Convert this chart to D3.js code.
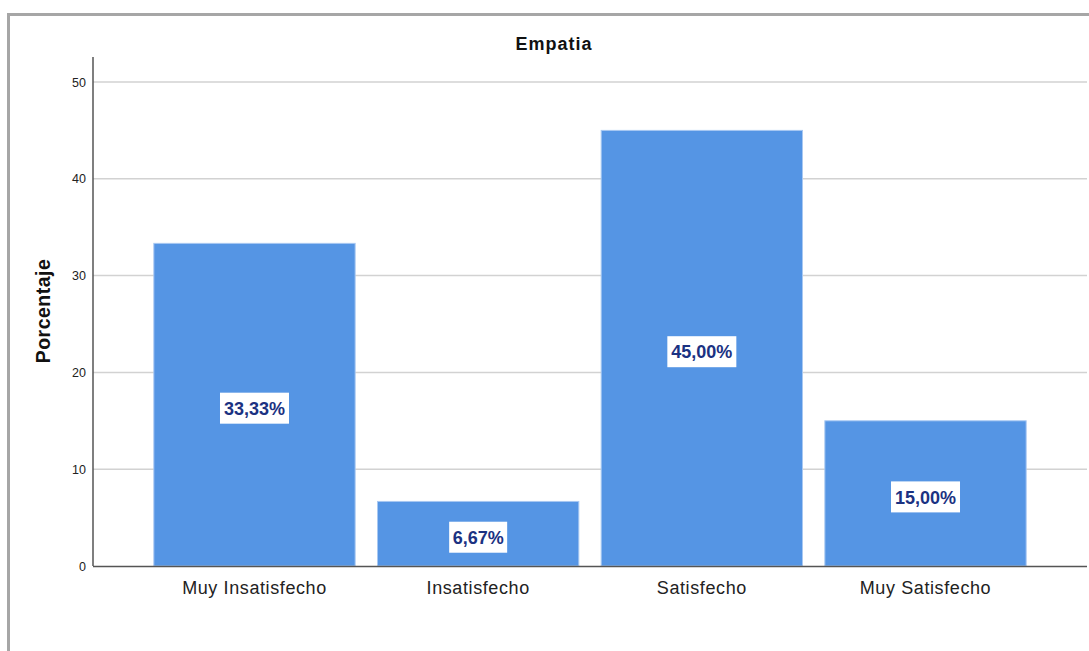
<!DOCTYPE html>
<html>
<head>
<meta charset="utf-8">
<script src="https://cdn.jsdelivr.net/npm/d3@7"></script>
<style>
  body { margin: 0; background: #fff; }
  svg { display: block; font-family: Arial, "Liberation Sans", sans-serif; }
</style>
</head>
<body>
<svg width="1089" height="651"></svg>
<script>
const categories = ["Muy Insatisfecho", "Insatisfecho", "Satisfecho", "Muy Satisfecho"];
const values = [33.33, 6.67, 45.0, 15.0];
const yTicks = [0, 10, 20, 30, 40, 50];

const svg = d3.select("svg");

// outer frame (only top and left edges are visible)
svg.append("path")
  .attr("d", "M8.5,651 V14.5 H1089")
  .attr("fill", "none")
  .attr("stroke", "#a6a6a6")
  .attr("stroke-width", 3);

// scales
const xScale = d3.scaleBand().domain(categories).range([93, 1087])
  .paddingInner(0.1).paddingOuter(0.272);
const yScale = d3.scaleLinear().domain([0, 50]).range([566, 82]);

// gridlines
svg.append("g")
  .selectAll("line")
  .data(yTicks.filter((d) => d > 0))
  .enter()
  .append("line")
  .attr("x1", 93)
  .attr("x2", 1087)
  .attr("y1", (d) => yScale(d))
  .attr("y2", (d) => yScale(d))
  .attr("stroke", "#d2d2d2")
  .attr("stroke-width", 1.5);

// bars
svg.append("g")
  .selectAll("rect")
  .data(values)
  .enter()
  .append("rect")
  .attr("x", (d, i) => xScale(categories[i]))
  .attr("y", (d) => yScale(d))
  .attr("width", xScale.bandwidth())
  .attr("height", (d) => yScale(0) - yScale(d))
  .attr("fill", "#5595e4")
  .attr("stroke", "#a8c8f2")
  .attr("stroke-width", 1);

// y axis
const yAxis = d3.axisLeft(yScale).tickValues(yTicks).tickSize(0).tickPadding(7);
const yG = svg.append("g").attr("transform", "translate(93,0)").call(yAxis);
yG.select("path.domain").remove();
yG.selectAll("text").attr("font-size", 12.5).attr("fill", "#222")
  .style("font-family", "Arial, 'Liberation Sans', sans-serif");
svg.append("line")
  .attr("x1", 93).attr("x2", 93).attr("y1", 57).attr("y2", 566)
  .attr("stroke", "#555").attr("stroke-width", 1.5);

// x axis
const xAxis = d3.axisBottom(xScale).tickSize(0).tickPadding(15);
const xG = svg.append("g").attr("transform", "translate(0,566)").call(xAxis);
xG.select("path.domain").remove();
xG.selectAll("text").attr("font-size", 18).attr("fill", "#222")
  .style("letter-spacing", "0.6px")
  .style("font-family", "Arial, 'Liberation Sans', sans-serif");
svg.append("line")
  .attr("x1", 93).attr("x2", 1087).attr("y1", 566.5).attr("y2", 566.5)
  .attr("stroke", "#555").attr("stroke-width", 1.5);

// value labels
const labels = svg.append("g")
  .selectAll("g")
  .data(values)
  .enter()
  .append("g")
  .attr("transform", (d, i) =>
    `translate(${xScale(categories[i]) + xScale.bandwidth() / 2},${yScale(d / 2) + 3})`);
labels.append("rect")
  .attr("x", (d) => (d >= 10 ? -34.5 : -29))
  .attr("y", -15)
  .attr("width", (d) => (d >= 10 ? 69 : 58))
  .attr("height", 31)
  .attr("fill", "#fff");
labels.append("text")
  .attr("text-anchor", "middle")
  .attr("dy", "0.4em")
  .attr("font-size", 18)
  .attr("font-weight", "bold")
  .attr("fill", "#1b3282")
  .text((d) => d.toFixed(2).replace(".", ",") + "%");

// title
svg.append("text")
  .attr("x", 554).attr("y", 50)
  .attr("text-anchor", "middle")
  .attr("font-size", 18).attr("font-weight", "bold").attr("fill", "#111")
  .style("letter-spacing", "1px")
  .text("Empatia");

// y label
svg.append("text")
  .attr("transform", "translate(50,311) rotate(-90)")
  .attr("text-anchor", "middle")
  .attr("font-size", 19.5).attr("font-weight", "bold").attr("fill", "#111")
  .style("letter-spacing", "0.5px")
  .text("Porcentaje");
</script>
</body>
</html>
